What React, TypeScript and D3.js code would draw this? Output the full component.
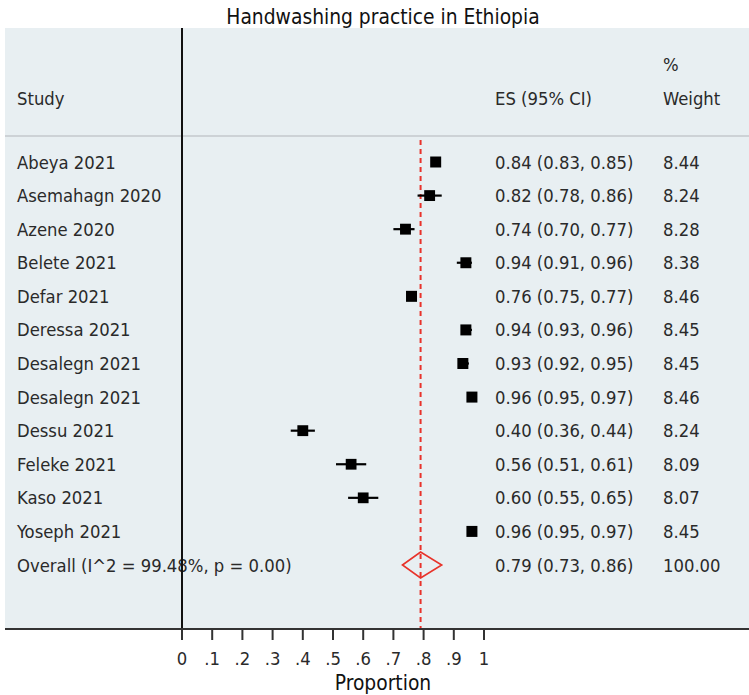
import React from "react";
import * as d3 from "d3";

const studies = ["Abeya 2021", "Asemahagn 2020", "Azene 2020", "Belete 2021", "Defar 2021", "Deressa 2021", "Desalegn 2021", "Desalegn 2021", "Dessu 2021", "Feleke 2021", "Kaso 2021", "Yoseph 2021"];
const es = [0.84, 0.82, 0.74, 0.94, 0.76, 0.94, 0.93, 0.96, 0.40, 0.56, 0.60, 0.96];
const lo = [0.83, 0.78, 0.70, 0.91, 0.75, 0.93, 0.92, 0.95, 0.36, 0.51, 0.55, 0.95];
const hi = [0.85, 0.86, 0.77, 0.96, 0.77, 0.96, 0.95, 0.97, 0.44, 0.61, 0.65, 0.97];
const weights = [8.44, 8.24, 8.28, 8.38, 8.46, 8.45, 8.45, 8.46, 8.24, 8.09, 8.07, 8.45];
const overallLabel = "Overall  (I^2 = 99.48%, p = 0.00)";
const overallES = 0.79;
const overallLo = 0.73;
const overallHi = 0.86;
const overallWeight = 100.0;
const ticks = [0, 0.1, 0.2, 0.3, 0.4, 0.5, 0.6, 0.7, 0.8, 0.9, 1];
const tickLabels = ["0", ".1", ".2", ".3", ".4", ".5", ".6", ".7", ".8", ".9", "1"];

const W = 749;
const H = 695;
const FONT = "'DejaVu Sans Condensed', 'DejaVu Sans', sans-serif";
const TXT = "#2a2a2a";

export default function App() {
  const x = d3.scaleLinear().domain([0, 1]).range([182, 484]);
  const rowCount = studies.length + 1;
  const y = d3.scaleLinear().domain([0, rowCount - 1]).range([162, 565]);
  const plotTop = 28;
  const axisY = 629;
  const fmt = d3.format(".2f");
  const sq = (w: number) => 11 * Math.sqrt(w / d3.max(weights)!);
  const yo = y(rowCount - 1);
  const dh = 13;
  const diamond = [
    [x(overallLo), yo],
    [x(overallES), yo - dh],
    [x(overallHi), yo],
    [x(overallES), yo + dh],
  ];
  const textStyle: React.CSSProperties = { fontFamily: FONT, fontSize: 18.3, fontStretch: "condensed", fill: TXT };
  return (
    <svg width={W} height={H} style={{ position: "absolute", left: 0, top: 0, background: "#ffffff" }}>
      <text x={383} y={24} textAnchor="middle" style={{ ...textStyle, fontSize: 20.8, fill: "#111" }}>
        Handwashing practice in Ethiopia
      </text>
      <rect x={5} y={plotTop} width={W - 5} height={axisY - plotTop} fill="#e8eff2" />
      <line x1={5} x2={W} y1={136} y2={136} stroke="#c5c9cc" strokeWidth={1.5} />
      {/* header */}
      <text x={17} y={105} style={textStyle}>Study</text>
      <text x={495} y={105} style={textStyle}>ES (95% CI)</text>
      <text x={663} y={71} style={textStyle}>%</text>
      <text x={663} y={105} style={textStyle}>Weight</text>
      {/* red dashed overall line */}
      <line x1={x(overallES)} x2={x(overallES)} y1={140} y2={axisY} stroke="#e8332b" strokeWidth={2} strokeDasharray="5,4" />
      {/* study rows */}
      {studies.map((s, i) => {
        const yc = y(i);
        const side = sq(weights[i]);
        return (
          <g key={i}>
            <text x={17} y={yc + 6.5} style={textStyle}>{s}</text>
            <line x1={x(lo[i])} x2={x(hi[i])} y1={yc} y2={yc} stroke="#000" strokeWidth={2.2} />
            <rect x={x(es[i]) - side / 2} y={yc - side / 2} width={side} height={side} fill="#000" />
            <text x={495} y={yc + 6.5} style={textStyle}>
              {`${fmt(es[i])} (${fmt(lo[i])}, ${fmt(hi[i])})`}
            </text>
            <text x={663} y={yc + 6.5} style={textStyle}>{fmt(weights[i])}</text>
          </g>
        );
      })}
      {/* overall */}
      <text x={17} y={yo + 6.5} style={textStyle}>{overallLabel}</text>
      <polygon points={diamond.map((p) => p.join(",")).join(" ")} fill="none" stroke="#e8332b" strokeWidth={1.6} />
      <text x={495} y={yo + 6.5} style={textStyle}>
        {`${fmt(overallES)} (${fmt(overallLo)}, ${fmt(overallHi)})`}
      </text>
      <text x={663} y={yo + 6.5} style={textStyle}>{fmt(overallWeight)}</text>
      {/* vertical null line */}
      <line x1={x(0)} x2={x(0)} y1={plotTop} y2={640} stroke="#111" strokeWidth={2} />
      {/* axis */}
      <line x1={5} x2={W} y1={axisY} y2={axisY} stroke="#333" strokeWidth={2} />
      {ticks.map((t, i) => (
        <g key={t}>
          <line x1={x(t)} x2={x(t)} y1={axisY} y2={640} stroke="#333" strokeWidth={2} />
          <text x={x(t)} y={665} textAnchor="middle" style={textStyle}>{tickLabels[i]}</text>
        </g>
      ))}
      <text x={383} y={690} textAnchor="middle" style={{ ...textStyle, fontSize: 20.8, fill: "#111" }}>Proportion</text>
    </svg>
  );
}
